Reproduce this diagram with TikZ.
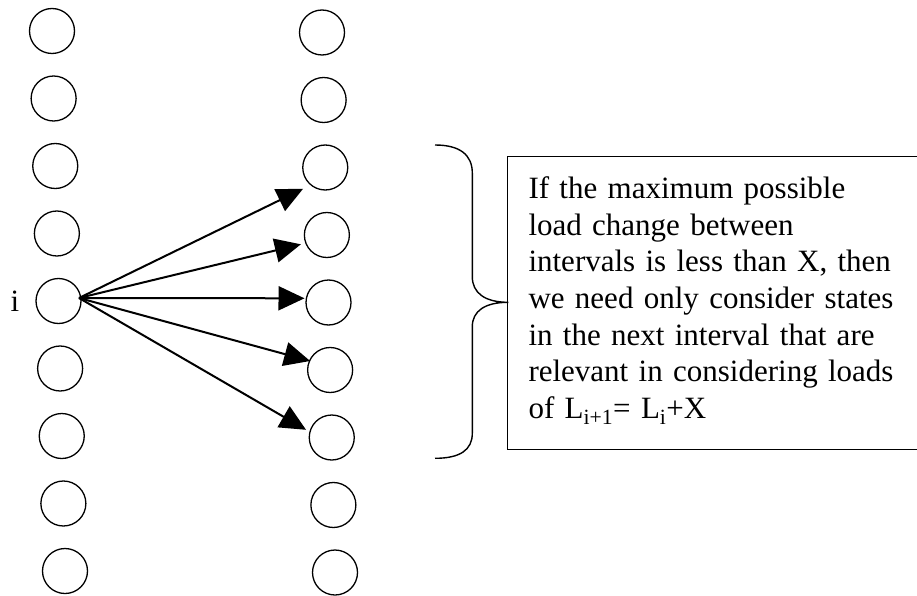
\documentclass[tikz,border=0pt]{standalone}
\usepackage{fontspec}
\setmainfont{Liberation Serif}
\usetikzlibrary{arrows.meta,calc}
\begin{document}
\begin{tikzpicture}[x=1pt,y=-1pt,
  state/.style={circle,draw,line width=1.3pt,minimum size=45pt,inner sep=0pt},
  trans/.style={line width=2pt,-{Triangle[length=26pt,width=24pt]}},
  lbl/.style={font=\fontsize{31}{36.7}\selectfont,inner sep=0pt}]
\useasboundingbox (0,0) rectangle (917,596);
\foreach \k in {1,...,9}{
  \node[state] (l\k) at ({52+1.625*(\k-1)},{31+67.5*(\k-1)}) {};
  \node[state] (r\k) at ({322+1.625*(\k-1)},{32.5+67.5*(\k-1)}) {};
}
\node[lbl,anchor=base] (ilab) at (15,311) {i};
\coordinate (src) at (79,298);
\draw[trans] (src) -- ([shift={(-22.2,21.3)}]r3.center);
\draw[trans] (src) -- ([shift={(-26,9.3)}]r4.center);
\draw[trans] (src) -- ([shift={(-24,-4.2)}]r5.center);
\draw[trans] (src) -- ([shift={(-20,-9)}]r6.center);
\draw[trans] (src) -- ([shift={(-25.7,-7.7)}]r7.center);
% brace
\coordinate (btop) at (435,145);
\coordinate (btip) at (508.3,302.3);
\coordinate (bbot) at (435,458.3);
\draw[line width=1.4pt] (btop) .. controls (460,145) and (472.3,155) .. (472.3,173)
  -- (472.3,276.7) .. controls (472.3,293) and (485,302.3) .. (btip)
  .. controls (485,302.3) and (472.3,311) .. (472.3,326.7)
  -- (472.3,433.3) .. controls (472.3,450) and (460,458.3) .. (bbot);
% box
\draw[line width=1.3pt] (507.7,156.7) rectangle (930,449.3);
\node[lbl,anchor=base west,text width=400pt,align=left] (txt) at (528.3,198.3)
 {If the maximum possible\\
  load change between\\
  intervals is less than X, then\\
  we need only consider states\\
  in the next interval that are\\
  relevant in considering loads\\
  of L\textsubscript{i+1}= L\textsubscript{i}+X};
\end{tikzpicture}
\end{document}
